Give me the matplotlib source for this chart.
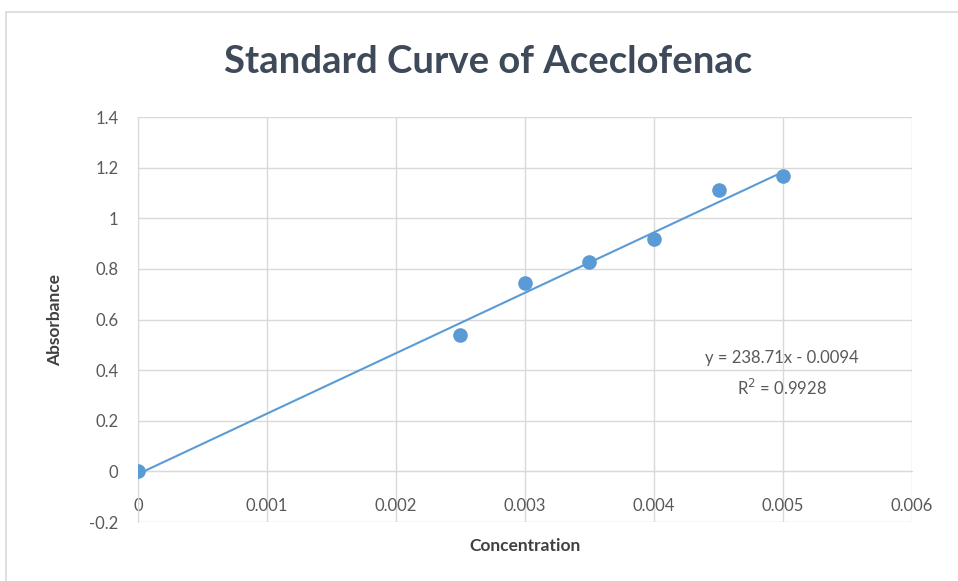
import numpy as np
import matplotlib.pyplot as plt
from matplotlib.patches import Rectangle

plt.rcParams['font.family'] = ['Lato', 'DejaVu Sans']

# data
concentration = [0.0, 0.0025, 0.003, 0.0035, 0.004, 0.0045, 0.005]
absorbance = [0.0, 0.537, 0.743, 0.826, 0.917, 1.11, 1.166]
equation_text = 'y = 238.71x - 0.0094'
r2_text = 'R$^2$ = 0.9928'
x_ticks = [0, 0.001, 0.002, 0.003, 0.004, 0.005, 0.006]
x_tick_labels = ['0', '0.001', '0.002', '0.003', '0.004', '0.005', '0.006']
y_ticks = [-0.2, 0, 0.2, 0.4, 0.6, 0.8, 1, 1.2, 1.4]
y_tick_labels = ['-0.2', '0', '0.2', '0.4', '0.6', '0.8', '1', '1.2', '1.4']

blue = '#5b9bd5'
grid_col = '#d9d9d9'
tick_col = '#595959'
label_col = '#404040'
title_col = '#3e4a5a'

fig = plt.figure(figsize=(9.58, 5.81), dpi=100)
fig.patches.append(Rectangle((0.006, -0.01), 1.0, 0.99, transform=fig.transFigure,
                             fill=False, edgecolor='#d9d9d9', linewidth=1.2))

ax = fig.add_axes([0.144, 0.1015, 0.808, 0.697])
ax.set_xlim(0, 0.006)
ax.set_ylim(-0.2, 1.4)

# trendline
slope, intercept = np.polyfit(concentration, absorbance, 1)
xs = np.array([min(concentration), max(concentration)])
ax.plot(xs, slope * xs + intercept, color=blue, linewidth=1.5, zorder=3)
ax.plot(concentration, absorbance, 'o', color=blue, markersize=9.5, zorder=4)

ax.set_xticks(x_ticks)
ax.set_xticklabels(x_tick_labels)
ax.set_yticks(y_ticks)
ax.set_yticklabels(y_tick_labels)
ax.grid(True, color=grid_col, linewidth=1)
ax.set_axisbelow(True)

for s in ['top', 'right']:
    ax.spines[s].set_visible(False)
ax.spines['bottom'].set_position(('data', 0))
ax.spines['bottom'].set_color(grid_col)
ax.spines['left'].set_color(grid_col)
ax.tick_params(axis='both', length=0, labelsize=12, labelcolor=tick_col)
ax.tick_params(axis='x', pad=19)
ax.tick_params(axis='y', pad=14)

fig.text(0.509, 0.893, 'Standard Curve of Aceclofenac', ha='center', va='center',
         fontsize=27.5, fontweight='bold', color=title_col)
ax.set_xlabel('Concentration', fontsize=12.5, fontweight='bold', color=label_col)
ax.xaxis.set_label_coords(0.5, -0.04)
ax.set_ylabel('Absorbance', fontsize=12.5, fontweight='bold', color=label_col)
ax.yaxis.set_label_coords(-0.097, 0.5)

ax.text(0.00499, 0.45, equation_text, ha='center', va='center', fontsize=12, color=tick_col)
ax.text(0.00499, 0.33, r2_text, ha='center', va='center', fontsize=12, color=tick_col)

fig.savefig('out.png', dpi=100)
